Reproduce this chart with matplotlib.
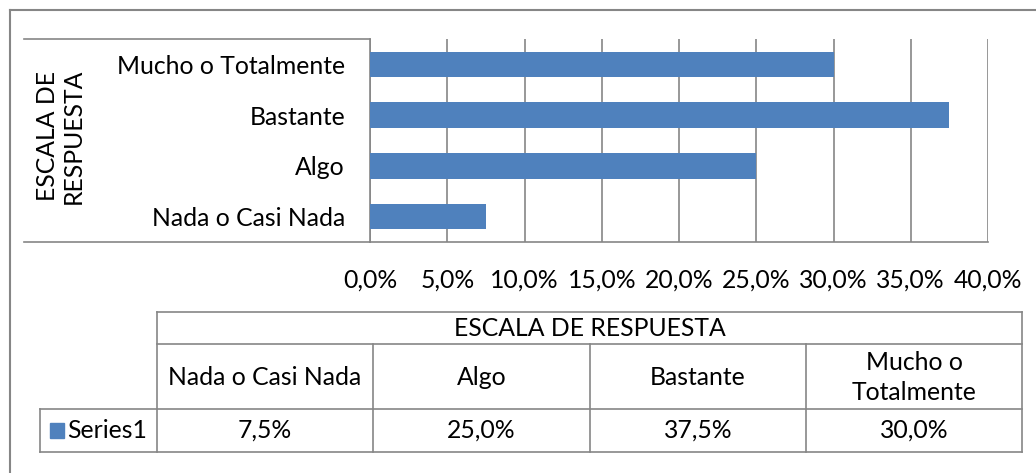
import matplotlib.pyplot as plt
from matplotlib.lines import Line2D
from matplotlib.patches import Rectangle

plt.rcParams['font.family'] = ['Lato', 'DejaVu Sans']

categories = ['Nada o Casi Nada', 'Algo', 'Bastante', 'Mucho o Totalmente']
table_headers = ['Nada o Casi Nada', 'Algo', 'Bastante', 'Mucho o\nTotalmente']
values = [7.5, 25.0, 37.5, 30.0]
series_name = 'Series1'
axis_title = 'ESCALA DE RESPUESTA'
x_ticks = [0, 5, 10, 15, 20, 25, 30, 35, 40]

W, H = 1036, 473
BLUE = '#4F81BD'
GRID = '#868686'
FS = 17.8


def fx(px):
    return px / W


def fy(py):
    return 1 - py / H


def hline(fig, x0, x1, y, lw=1.2):
    fig.add_artist(Line2D([fx(x0), fx(x1)], [fy(y), fy(y)], color=GRID, lw=lw))


def vline(fig, x, y0, y1, lw=1.2):
    fig.add_artist(Line2D([fx(x), fx(x)], [fy(y0), fy(y1)], color=GRID, lw=lw))


def fmt(v):
    return ('%.1f%%' % v).replace('.', ',')


fig = plt.figure(figsize=(W / 100, H / 100), dpi=100)
fig.patch.set_facecolor('white')

# plot area
ax = fig.add_axes([fx(370), fy(242), fx(988) - fx(370), fy(39) - fy(242)])
ypos = range(len(categories))
ax.barh(ypos, values, height=0.5, color=BLUE, zorder=3)
ax.set_xlim(0, 40)
ax.set_ylim(-0.5, 3.5)
ax.set_xticks(x_ticks)
ax.set_xticklabels([fmt(t) for t in x_ticks], fontsize=FS)
ax.set_yticks(list(ypos))
ax.set_yticklabels(categories, fontsize=FS)
ax.tick_params(axis='x', length=0, pad=19)
ax.tick_params(axis='y', length=0, pad=18)
ax.grid(axis='x', color=GRID, lw=1.2, zorder=0)
for s in ['top', 'right']:
    ax.spines[s].set_visible(False)
for s in ['left', 'bottom']:
    ax.spines[s].set_color(GRID)
    ax.spines[s].set_linewidth(1.2)
ax.set_facecolor('none')

# category label box lines
hline(fig, 24, 370, 39)
hline(fig, 24, 370, 242)

fig.text(fx(60), fy(136), 'ESCALA DE\nRESPUESTA', rotation=90, ha='center',
         va='center', multialignment='center', fontsize=FS, linespacing=1.15)

# outer frame
hline(fig, 10, W, 10, lw=1.5)
vline(fig, 10, 10, H, lw=1.5)

# data table
col_edges = [157, 373, 590, 806, 1022]
top, r1, r2, bot = 312, 344, 409, 452
hline(fig, 157, 1022, top)
hline(fig, 157, 1022, r1)
hline(fig, 40, 1022, r2)
hline(fig, 40, 1022, bot)
vline(fig, 40, r2, bot)
vline(fig, 157, top, bot)
vline(fig, 1022, top, bot)
for x in col_edges[1:-1]:
    vline(fig, x, r1, bot)

fig.text(fx((157 + 1022) / 2), fy((top + r1) / 2), axis_title,
         ha='center', va='center', fontsize=FS)
for i in range(len(categories)):
    cx = (col_edges[i] + col_edges[i + 1]) / 2
    fig.text(fx(cx), fy((r1 + r2) / 2 + 1), table_headers[i], ha='center',
             va='center', multialignment='center', fontsize=FS, linespacing=1.35)
    fig.text(fx(cx), fy((r2 + bot) / 2), fmt(values[i]), ha='center',
             va='center', fontsize=FS)

fig.add_artist(Rectangle((fx(50), fy(438)), fx(14), fy(423) - fy(438),
                         color=BLUE, transform=fig.transFigure))
fig.text(fx(67), fy((r2 + bot) / 2), series_name, ha='left', va='center',
         fontsize=FS)

fig.savefig('out.png', dpi=100, facecolor='white')
